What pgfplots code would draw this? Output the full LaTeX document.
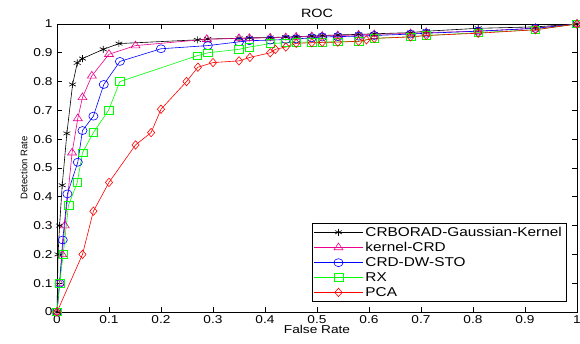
\documentclass[border=0pt]{standalone}
\usepackage{pgfplots}
\pgfplotsset{compat=1.18}
\usepackage{fontspec}
\setmainfont{Liberation Sans}
\newfontfamily\wide[FakeStretch=1.2]{Liberation Sans}
\begin{document}
\begin{tikzpicture}
\begin{axis}[
  at={(0,0)}, anchor=south west,
  scale only axis, width=520pt, height=288pt,
  xmin=0, xmax=1, ymin=0, ymax=1,
  xtick={0,0.1,...,1.01}, ytick={0,0.1,...,1.01},
  xticklabels={0,0.1,0.2,0.3,0.4,0.5,0.6,0.7,0.8,0.9,1},
  yticklabels={0,0.1,0.2,0.3,0.4,0.5,0.6,0.7,0.8,0.9,1},
  tick align=inside, major tick length=5pt,
  tick style={black, line width=0.6pt},
  axis line style={line width=0.7pt},
  ticklabel style={font=\wide\fontsize{11.4}{12}\selectfont},
  xticklabel style={yshift=0pt},
  yticklabel style={xshift=-1pt},
  title={ROC}, title style={font=\wide\fontsize{12}{13}\selectfont, yshift=-3pt},
  xlabel={False Rate}, ylabel={Detection Rate},
  xlabel style={font=\wide\fontsize{11.4}{12}\selectfont, yshift=5pt},
  ylabel style={font=\fontsize{9.5}{10}\selectfont, yshift=-1pt},
  legend style={at={(0.98,0.035)}, anchor=south east, draw=black, line width=0.6pt,
    font=\wide\fontsize{12.8}{13}\selectfont, row sep=0.5pt, inner sep=2pt,
    nodes={inner xsep=2.5pt}},
  legend cell align=left,
  legend image code/.code={\draw[mark repeat=2,mark phase=2] plot coordinates {(0cm,0cm) (0.85cm,0cm) (1.7cm,0cm)};},
  every axis plot/.append style={line width=0.6pt, mark options={solid, xscale=1.15}},
]
\addplot[black, mark=asterisk, mark size=3.5pt] coordinates {
(0,0)(0.002,0.2)(0.005,0.3)(0.01,0.44)(0.019,0.62)(0.03,0.79)(0.039,0.865)(0.049,0.88)(0.089,0.912)(0.119,0.932)(0.27,0.945)(0.29,0.948)(0.35,0.95)(0.37,0.952)(0.41,0.953)(0.44,0.955)(0.46,0.956)(0.49,0.958)(0.51,0.96)(0.54,0.962)(0.58,0.964)(0.61,0.966)(0.68,0.97)(0.71,0.975)(0.81,0.985)(0.92,0.99)(1,1)};
\addlegendentry{CRBORAD-Gaussian-Kernel}
\addplot[magenta, mark=triangle, mark size=4.5pt] coordinates {
(0,0)(0.005,0.1)(0.01,0.2)(0.015,0.3)(0.029,0.553)(0.04,0.672)(0.049,0.745)(0.067,0.82)(0.1,0.895)(0.151,0.925)(0.288,0.947)(0.35,0.95)(0.37,0.951)(0.41,0.952)(0.44,0.953)(0.46,0.955)(0.49,0.957)(0.51,0.958)(0.54,0.96)(0.58,0.962)(0.61,0.964)(0.68,0.967)(0.71,0.97)(0.81,0.975)(0.92,0.985)(1,1)};
\addlegendentry{kernel-CRD}
\addplot[blue, mark=o, mark size=4pt] coordinates {
(0,0)(0.005,0.1)(0.011,0.25)(0.02,0.41)(0.04,0.52)(0.049,0.63)(0.07,0.68)(0.09,0.79)(0.121,0.87)(0.2,0.914)(0.29,0.925)(0.35,0.938)(0.37,0.942)(0.41,0.944)(0.44,0.946)(0.46,0.948)(0.49,0.952)(0.51,0.955)(0.54,0.956)(0.58,0.958)(0.61,0.96)(0.68,0.965)(0.71,0.968)(0.81,0.975)(0.92,0.985)(1,1)};
\addlegendentry{CRD-DW-STO}
\addplot[green, mark=square, mark size=3.8pt] coordinates {
(0,0)(0.005,0.1)(0.012,0.2)(0.022,0.37)(0.039,0.45)(0.049,0.553)(0.07,0.623)(0.099,0.70)(0.121,0.80)(0.27,0.89)(0.29,0.90)(0.35,0.912)(0.37,0.92)(0.41,0.932)(0.44,0.935)(0.46,0.937)(0.49,0.937)(0.51,0.937)(0.54,0.938)(0.58,0.94)(0.61,0.95)(0.68,0.956)(0.71,0.96)(0.81,0.97)(0.92,0.98)(1,1)};
\addlegendentry{RX}
\addplot[red, mark=diamond, mark size=4.2pt] coordinates {
(0,0)(0.049,0.2)(0.07,0.35)(0.1,0.45)(0.151,0.58)(0.181,0.623)(0.2,0.704)(0.249,0.80)(0.271,0.85)(0.30,0.866)(0.35,0.872)(0.371,0.884)(0.41,0.90)(0.42,0.912)(0.44,0.92)(0.46,0.933)(0.49,0.935)(0.51,0.936)(0.54,0.937)(0.58,0.94)(0.595,0.945)(0.61,0.95)(0.68,0.955)(0.71,0.96)(0.81,0.968)(0.92,0.98)(1,1)};
\addlegendentry{PCA}
\end{axis}
\pgfresetboundingbox
\path (-57pt,-32pt) rectangle (523pt,312pt);
\end{tikzpicture}
\end{document}
